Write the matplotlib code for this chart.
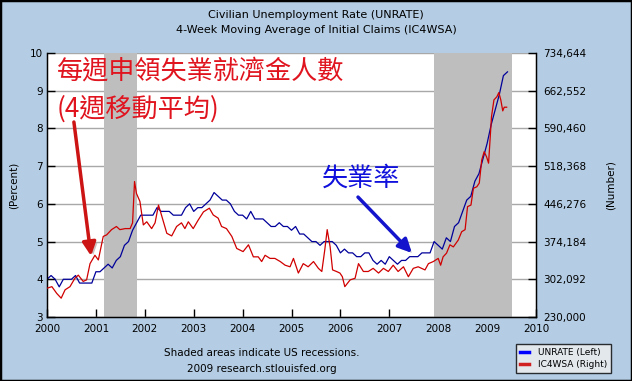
import matplotlib
matplotlib.use("Agg")
import matplotlib.pyplot as plt
import matplotlib.patheffects as pe
from matplotlib.lines import Line2D
from matplotlib.patches import Rectangle
from matplotlib.ticker import FuncFormatter

# UNRATE, monthly, Jan 2000 - Jun 2009 (percent)
unrate = [
    4.0, 4.1, 4.0, 3.8, 4.0, 4.0, 4.0, 4.1, 3.9, 3.9, 3.9, 3.9,
    4.2, 4.2, 4.3, 4.4, 4.3, 4.5, 4.6, 4.9, 5.0, 5.3, 5.5, 5.7,
    5.7, 5.7, 5.7, 5.9, 5.8, 5.8, 5.8, 5.7, 5.7, 5.7, 5.9, 6.0,
    5.8, 5.9, 5.9, 6.0, 6.1, 6.3, 6.2, 6.1, 6.1, 6.0, 5.8, 5.7,
    5.7, 5.6, 5.8, 5.6, 5.6, 5.6, 5.5, 5.4, 5.4, 5.5, 5.4, 5.4,
    5.3, 5.4, 5.2, 5.2, 5.1, 5.0, 5.0, 4.9, 5.0, 5.0, 5.0, 4.9,
    4.7, 4.8, 4.7, 4.7, 4.6, 4.6, 4.7, 4.7, 4.5, 4.4, 4.5, 4.4,
    4.6, 4.5, 4.4, 4.5, 4.5, 4.6, 4.6, 4.6, 4.7, 4.7, 4.7, 5.0,
    4.9, 4.8, 5.1, 5.0, 5.4, 5.5, 5.8, 6.1, 6.2, 6.6, 6.8, 7.2,
    7.6, 8.1, 8.5, 8.9, 9.4, 9.5,
]
unrate_x = [2000 + i / 12 for i in range(len(unrate))]

# IC4WSA (decimal year, thousands of claims)
claims_x = [
    2000.00, 2000.10, 2000.20, 2000.29, 2000.37, 2000.47, 2000.57, 2000.64,
    2000.74, 2000.81, 2000.88, 2000.98, 2001.05, 2001.15, 2001.22, 2001.32,
    2001.42, 2001.49, 2001.60, 2001.70, 2001.75, 2001.79, 2001.83, 2001.90,
    2001.97, 2002.04, 2002.14, 2002.21, 2002.28, 2002.35, 2002.45, 2002.55,
    2002.65, 2002.75, 2002.82, 2002.89, 2002.99, 2003.09, 2003.20, 2003.32,
    2003.40, 2003.50, 2003.57, 2003.67, 2003.78, 2003.88, 2004.01, 2004.12,
    2004.22, 2004.32, 2004.39, 2004.46, 2004.56, 2004.66, 2004.77, 2004.87,
    2004.97, 2005.04, 2005.14, 2005.24, 2005.34, 2005.45, 2005.55, 2005.62,
    2005.68, 2005.73, 2005.79, 2005.84, 2005.92, 2005.99, 2006.04, 2006.09,
    2006.20, 2006.30, 2006.37, 2006.47, 2006.57, 2006.67, 2006.78, 2006.88,
    2006.98, 2007.08, 2007.18, 2007.29, 2007.39, 2007.49, 2007.59, 2007.73,
    2007.80, 2007.90, 2008.00, 2008.05, 2008.10, 2008.17, 2008.24, 2008.31,
    2008.41, 2008.48, 2008.55, 2008.60, 2008.67, 2008.72, 2008.79, 2008.84,
    2008.89, 2008.94, 2008.99, 2009.03, 2009.06, 2009.09, 2009.14, 2009.20,
    2009.24, 2009.28, 2009.32, 2009.35, 2009.40,
]
claims = [
    285, 288, 275, 266, 282, 288, 304, 310,
    298, 301, 332, 348, 339, 384, 387, 397,
    403, 397, 399, 399, 410, 489, 466, 451,
    406, 412, 399, 410, 444, 422, 390, 385,
    403, 410, 399, 412, 399, 415, 431, 438,
    425, 419, 403, 399, 384, 361, 355, 368,
    345, 345, 336, 348, 342, 342, 336, 329,
    326, 342, 314, 332, 326, 336, 323, 317,
    358, 397, 364, 320, 317, 314, 307, 288,
    301, 304, 332, 317, 317, 323, 314, 323,
    317, 329, 317, 326, 307, 323, 326, 320,
    332, 336, 342, 329, 345, 352, 368, 364,
    377, 393, 397, 441, 444, 476, 479, 486,
    530, 546, 536, 524, 568, 613, 645, 651,
    659, 645, 624, 631, 631,
]

recessions = [(2001 + 2 / 12, 2001 + 10 / 12), (2007 + 11 / 12, 2009 + 6 / 12)]
years = list(range(2000, 2011))
left_ticks = [3, 4, 5, 6, 7, 8, 9, 10]
right_ticks = [230000 + 72092 * k for k in range(8)]

bg = "#B4CDE4"
fig = plt.figure(figsize=(6.32, 3.81), dpi=100, facecolor=bg)
W, H = 632, 381
ax = fig.add_axes([47 / W, 1 - 317 / H, (536 - 47) / W, (317 - 53) / H])
ax.set_facecolor("white")

for a, b in recessions:
    ax.axvspan(a, b, color="#BEBEBE", lw=0, zorder=1)

ax.plot(unrate_x, unrate, color="#00009A", lw=0.9, zorder=3)
ax.set_xlim(2000, 2010)
ax.set_ylim(3, 10)
ax.set_xticks(years)
ax.set_yticks(left_ticks)
ax.grid(axis="y", color="#A8A8A8", lw=1, zorder=0.5)
ax.set_axisbelow(True)
ax.tick_params(direction="in", length=6, width=1, labelsize=7.5, pad=3)
ax.tick_params(axis="x", pad=5)
for s in ["left", "bottom", "right"]:
    ax.spines[s].set_linewidth(1)
ax.spines["top"].set_visible(False)
ax.set_ylabel("(Percent)", fontsize=7.5, labelpad=8)

ax2 = ax.twinx()
ax2.plot(claims_x, [c * 1000 for c in claims], color="#D00000", lw=0.9, zorder=3)
ax2.set_ylim(230000, 734644)
ax2.set_yticks(right_ticks)
ax2.yaxis.set_major_formatter(FuncFormatter(lambda v, p: f"{int(round(v)):,}"))
ax2.tick_params(direction="in", length=6, width=1, labelsize=7.5, pad=5)
ax2.spines["top"].set_visible(False)
ax2.set_ylabel("(Number)", fontsize=7.5, labelpad=14)

cjk = ["Noto Sans CJK TC", "DejaVu Sans"]
red_txt = "#E0141E"
ax.text(2000.2, 9.53, "每週申領失業就濟金人數", family=cjk, fontsize=18.8,
        color=red_txt, va="center", ha="left", zorder=5)
ax.text(2000.2, 8.52, "(4週移動平均)", family=cjk, fontsize=18.8,
        color=red_txt, va="center", ha="left", zorder=5)
ax.text(2005.62, 6.69, "失業率", family=cjk, fontsize=18.8, color="#1010DC",
        va="center", ha="left", zorder=5)

shadow = [pe.SimplePatchShadow(offset=(2, -2), alpha=0.25), pe.Normal()]
a1 = ax.annotate("", xy=(2000.9, 4.62), xytext=(2000.55, 8.17),
                 arrowprops=dict(arrowstyle="-|>", color="#CC1414", lw=2.5,
                                 mutation_scale=20, shrinkA=0, shrinkB=0), zorder=5)
a1.arrow_patch.set_path_effects(shadow)
a2 = ax.annotate("", xy=(2007.46, 4.70), xytext=(2006.36, 6.18),
                 arrowprops=dict(arrowstyle="-|>", color="#1414CC", lw=2.5,
                                 mutation_scale=20, shrinkA=0, shrinkB=0), zorder=5)
a2.arrow_patch.set_path_effects(shadow)

fig.text(0.5, 1 - 15 / H, "Civilian Unemployment Rate (UNRATE)", ha="center",
         va="center", fontsize=8)
fig.text(0.5, 1 - 30 / H, "4-Week Moving Average of Initial Claims (IC4WSA)",
         ha="center", va="center", fontsize=8)
fig.text(262 / W, 1 - 353 / H, "Shaded areas indicate US recessions.",
         ha="center", va="center", fontsize=7.5)
fig.text(262 / W, 1 - 369 / H, "2009 research.stlouisfed.org",
         ha="center", va="center", fontsize=7.5)

handles = [Line2D([], [], color="#0000FF", lw=2.5),
           Line2D([], [], color="#D02020", lw=2.5)]
leg = fig.legend(handles, ["UNRATE (Left)", "IC4WSA (Right)"],
                 loc="upper left", bbox_to_anchor=(516 / W, 1 - 344 / H),
                 fontsize=6.5, frameon=True, fancybox=False, handlelength=1.0,
                 handletextpad=1.0, borderpad=0.45, labelspacing=0.3,
                 borderaxespad=0)
leg.get_frame().set_facecolor("#F0F0F0")
leg.get_frame().set_edgecolor("black")
leg.get_frame().set_linewidth(1)

fig.patches.append(Rectangle((0, 0), 1, 1, transform=fig.transFigure,
                             fill=False, edgecolor="black", lw=2.5))

fig.savefig("out.png", dpi=100, facecolor=bg)
